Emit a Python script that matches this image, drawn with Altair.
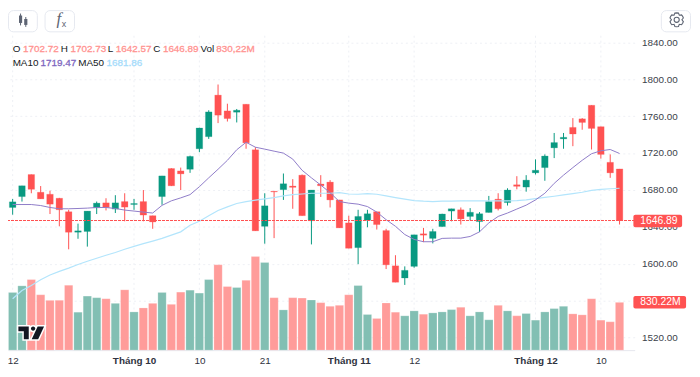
import math
import altair as alt
import pandas as pd

FONT = "Liberation Sans"
RED = "#ff5252"
GREEN = "#089981"
VOL_RED = "#ff9c9a"
VOL_GREEN = "#82bfb3"

opens = [1661.0,1672.8,1696.7,1677.5,1675.3,1671.0,1656.4,1634.2,1635.0,1660.7,1666.0,1659.3,1667.4,1664.2,1667.4,1652.1,
         1672.8,1703.2,1700.6,1702.4,1724.6,1737.7,1782.7,1765.6,1764.2,1772.8,1723.5,1640.6,1678.5,1680.3,1684.2,1696.0,
         1646.7,1686.4,1688.5,1669.2,1644.3,1617.5,1647.1,1656.4,1636.0,1597.8,1584.6,1597.2,1632.5,1627.5,1640.3,1657.1,
         1658.5,1651.3,1645.7,1655.6,1670.0,1666.3,1685.6,1683.1,1698.5,1704.2,1725.6,1735.3,1747.7,1757.0,1771.7,1748.5,
         1709.9,1702.72]
highs = [1670.3,1684.5,1696.7,1684.2,1679.2,1671.4,1658.5,1643.5,1657.1,1667.4,1671.0,1674.3,1676.4,1670.3,1679.9,1652.1,
         1695.2,1703.5,1704.2,1717.1,1747.4,1766.3,1794.2,1773.4,1767.7,1772.8,1726.3,1676.4,1678.5,1697.8,1691.7,1696.7,
         1679.9,1696.0,1690.6,1669.2,1652.1,1658.5,1658.5,1656.4,1637.9,1609.3,1597.2,1631.4,1638.9,1637.9,1654.2,1659.6,
         1661.0,1660.3,1656.0,1673.5,1676.4,1681.8,1694.9,1696.0,1713.1,1718.5,1741.7,1741.7,1757.8,1757.8,1771.7,1748.5,
         1718.5,1702.73]
lows = [1653.2,1667.4,1676.4,1670.3,1653.9,1640.6,1615.7,1627.1,1618.6,1653.9,1657.8,1655.0,1646.0,1658.5,1646.0,1637.9,
        1663.9,1684.2,1679.9,1698.5,1720.9,1735.3,1752.4,1754.1,1753.1,1724.6,1635.7,1621.8,1627.8,1669.2,1659.6,1652.1,
        1621.0,1672.4,1661.0,1638.9,1616.8,1599.6,1639.6,1637.1,1594.3,1580.0,1577.1,1595.7,1623.5,1622.1,1640.3,1646.0,
        1642.5,1647.1,1634.4,1655.6,1657.8,1663.1,1680.7,1678.1,1696.7,1689.9,1714.5,1724.6,1727.4,1745.2,1723.8,1713.9,
        1693.1,1642.57]
closes = [1667.1,1684.5,1680.7,1670.3,1664.6,1658.5,1634.2,1635.7,1657.1,1665.7,1661.0,1666.0,1661.4,1665.3,1652.8,1645.3,
          1695.2,1684.5,1697.4,1716.3,1747.1,1764.5,1761.0,1757.3,1766.3,1731.0,1635.7,1662.8,1677.8,1686.7,1682.8,1652.1,
          1679.9,1684.5,1669.2,1638.9,1616.8,1651.3,1654.2,1642.5,1598.9,1580.0,1592.9,1631.4,1631.0,1635.0,1653.9,1659.6,
          1648.6,1655.8,1654.2,1667.4,1659.6,1679.9,1683.9,1690.6,1701.3,1716.7,1731.3,1737.0,1740.6,1753.1,1746.6,1718.5,
          1698.5,1646.89]
volumes = [1002,1117,1226,962,865,865,1128,659,939,911,893,813,1048,664,733,813,
           1002,796,1008,1042,991,1226,1483,1105,1088,1214,1626,1523,911,699,911,905,
           871,825,762,779,962,1122,619,550,819,659,596,682,624,647,664,704,
           745,596,664,527,779,682,596,636,521,664,722,762,630,613,893,521,
           493,830.22]
ma10 = [1664.2,1664.2,1664.2,1663.1,1661.0,1659.6,1659.6,1659.9,1660.3,1661.0,1661.0,1659.9,1658.2,1657.1,1656.0,1655.0,
        1663.3,1668.2,1671.4,1674.9,1683.5,1693.1,1702.4,1712.1,1723.5,1731.6,1726.3,1724.2,1722.0,1719.9,1713.4,1701.3,
        1693.1,1685.3,1677.0,1667.4,1665.7,1664.6,1662.0,1656.0,1647.8,1640.6,1631.7,1626.4,1623.9,1623.9,1627.5,1627.8,
        1627.8,1629.6,1634.6,1644.3,1651.3,1655.0,1659.3,1663.5,1669.2,1676.4,1687.1,1696.0,1704.2,1712.1,1719.2,1722.4,
        1723.8,1719.47]
ma50 = [1562.1,1571.0,1576.4,1582.8,1587.9,1591.8,1595.3,1599.3,1602.8,1606.0,1609.3,1612.2,1615.7,1618.9,1621.8,1624.6,
        1627.5,1631.0,1634.6,1641.7,1646.0,1652.1,1657.8,1661.7,1665.3,1667.4,1668.9,1670.3,1671.7,1673.5,1674.9,1675.6,
        1676.4,1676.4,1676.4,1677.0,1675.6,1675.3,1676.0,1675.3,1673.5,1671.7,1670.0,1668.5,1667.8,1667.4,1667.8,1667.8,
        1668.2,1668.2,1668.2,1668.2,1668.2,1668.2,1668.5,1669.2,1670.6,1671.9,1673.2,1674.6,1676.0,1677.5,1679.6,1680.7,
        1681.3,1681.86]

x_tick_index = [0, 13, 20, 27, 36, 43, 56, 63]
x_tick_labels = ["12", "Tháng 10", "10", "21", "Tháng 11", "12", "Tháng 12", "10"]
month_ticks = [13, 36, 56]
price_ticks = [1520, 1560, 1600, 1640, 1680, 1720, 1760, 1800, 1840]
last_price = 1646.89

df = pd.DataFrame({"i": range(len(opens)), "o": opens, "h": highs, "l": lows, "c": closes,
                   "v": volumes, "ma10": ma10, "ma50": ma50})
df["top"] = df[["o", "c"]].max(axis=1)
df["bot"] = df[["o", "c"]].min(axis=1)
df["dir"] = ["up" if c >= o else "down" for o, c in zip(opens, closes)]
ticks_df = pd.DataFrame({"i": x_tick_index})

W, H = 634, 344
xs = alt.Scale(domain=[-0.4976, 66.62], nice=False, zero=False, padding=0)
ys = alt.Scale(domain=[1506.5, 1874.8], nice=False, zero=False, padding=0)
vs = alt.Scale(domain=[0, 5910], nice=False, zero=False, padding=0)

X_plain = alt.X("i:Q", scale=xs, axis=None)
Y_plain = alt.Y("top:Q", scale=ys, axis=None)

candle_color = alt.Color("dir:N", legend=None,
                         scale=alt.Scale(domain=["up", "down"], range=[GREEN, RED]))
vol_color = alt.Color("dir:N", legend=None,
                      scale=alt.Scale(domain=["up", "down"], range=[VOL_GREEN, VOL_RED]))

label_expr = ("[" + ",".join(f"'{t}'" for t in x_tick_labels) + "][indexof(["
              + ",".join(str(t) for t in x_tick_index) + "],datum.value)]")
bold_test = " || ".join(f"datum.value === {t}" for t in month_ticks)

axes_layer = alt.Chart(df).mark_point(opacity=0).encode(
    x=alt.X("i:Q", scale=xs, title=None, axis=alt.Axis(
        values=x_tick_index, labelExpr=label_expr, grid=False, ticks=False,
        domain=True, domainColor="#e6e8ee", labelFont=FONT, labelFontSize=10,
        labelColor="#2f3340", labelPadding=6, labelOverlap=False, labelFlush=False,
        labelBound=False, labelAlign="center",
        labelFontWeight={"condition": {"test": bold_test, "value": "bold"}, "value": "normal"})),
    y=alt.Y("top:Q", scale=ys, title=None, axis=alt.Axis(
        orient="right", values=price_ticks, format=".2f", grid=True, gridColor="#eef0f5",
        gridDash=[2, 3], ticks=False, domain=False, labelFont=FONT, labelFontSize=10,
        labelColor="#3b3f4a", labelPadding=7, labelOverlap=False, labelFlush=False, labelBound=False)),
)

vgrid = alt.Chart(ticks_df).mark_rule(color="#eef0f5", strokeDash=[2, 3]).encode(
    x=X_plain, y=alt.Y("a:Q", scale=ys, axis=None), y2="b:Q"
).transform_calculate(a="1847", b="1506.5")

vol = alt.Chart(df).mark_bar(size=8.4, stroke="#ffffff", strokeOpacity=0.35, strokeWidth=0.6).encode(
    x=X_plain, y=alt.Y("v:Q", scale=vs, axis=None), y2=alt.Y2(datum=0), color=vol_color)

wicks = alt.Chart(df).mark_rule(strokeWidth=1).encode(
    x=X_plain, y=alt.Y("h:Q", scale=ys, axis=None), y2="l:Q", color=candle_color)
bodies = alt.Chart(df).mark_bar(size=6.6, strokeWidth=0.8, strokeOpacity=0.3).encode(
    x=X_plain, y=Y_plain, y2="bot:Q", color=candle_color, stroke=candle_color)

line50 = alt.Chart(df).mark_line(color="#b3e5fc", strokeWidth=1.2).encode(
    x=X_plain, y=alt.Y("ma50:Q", scale=ys, axis=None))
line10 = alt.Chart(df).mark_line(color="#8f7cc8", strokeWidth=1).encode(
    x=X_plain, y=alt.Y("ma10:Q", scale=ys, axis=None))
last_line = alt.Chart(df).mark_rule(color=RED, strokeDash=[2, 2], strokeWidth=1).encode(
    y=alt.Y(datum=last_price, scale=ys, axis=None))


def P(v):
    return alt.value(v - 8)


def txt(s, px, py, color="#131722", size=10, align="left", font=FONT, style="normal", bolden=0.0):
    kw = {"stroke": color, "strokeWidth": bolden} if bolden else {}
    return alt.Chart(df.head(1)).mark_text(
        text=s, align=align, baseline="middle", color=color, fontSize=size,
        font=font, fontStyle=style, **kw).encode(x=P(px), y=P(py))


def box(x0, x1, y0, y1, fill, stroke=None, r=5):
    kw = {"stroke": stroke, "strokeWidth": 1} if stroke else {}
    return alt.Chart(df.head(1)).mark_rect(fill=fill, cornerRadius=r, **kw).encode(
        x=P(x0), x2=P(x1), y=P(y0), y2=P(y1))


def bar_icon(x, y0, y1, width):
    return alt.Chart(df.head(1)).mark_rule(color="#5d6473", strokeWidth=width).encode(
        x=P(x), y=P(y0), y2=P(y1))


tv_path = ("M-13,-6.5 L-2.5,-6.5 L-2.5,6.5 L-7.5,6.5 L-7.5,-1.5 L-13,-1.5 Z "
           "M-0.3,-4.3 a2.2,2.2 0 1 0 4.4,0 a2.2,2.2 0 1 0 -4.4,0 Z "
           "M6.5,-6.5 L13,-6.5 L7,6.5 L0.5,6.5 Z")
logo_halo = alt.Chart(df.head(1)).mark_point(
    shape=tv_path, size=4, filled=True, fill="#ffffff", stroke="#ffffff",
    strokeWidth=3, opacity=1).encode(x=P(31.5), y=P(334.5))
logo = alt.Chart(df.head(1)).mark_point(
    shape=tv_path, size=4, filled=True, fill="#131722", opacity=1).encode(x=P(31.5), y=P(334.5))

gear_pts = []
for k in range(24):
    a = math.radians(k * 15 - 90)
    r = 7.0 if k % 4 in (0, 1, 3) else 5.3
    gear_pts.append(f"{r * math.cos(a):.2f},{r * math.sin(a):.2f}")
gear_path = "M" + " L".join(gear_pts) + " Z M-2.6,0 a2.6,2.6 0 1 0 5.2,0 a2.6,2.6 0 1 0 -5.2,0 Z"
gear = alt.Chart(df.head(1)).mark_point(
    shape=gear_path, size=4, filled=False, stroke="#5d6473", strokeWidth=1.1, opacity=1
).encode(x=P(684.5), y=P(17.8))

LAB = "#ff9391"
B = 0.3
overlay = [
    txt("O", 12.7, 47), txt("1702.72", 23.3, 47, LAB, bolden=B),
    txt("H", 61.3, 47), txt("1702.73", 71.3, 47, LAB, bolden=B),
    txt("L", 109, 47), txt("1642.57", 117, 47, LAB, bolden=B),
    txt("C", 155, 47), txt("1646.89", 164.7, 47, LAB, bolden=B),
    txt("Vol", 202.7, 47), txt("830,22M", 218.7, 47, LAB, bolden=B),
    txt("MA10", 12.7, 62), txt("1719.47", 41, 62, "#7e67c0", bolden=B),
    txt("MA50", 79, 62), txt("1681.86", 107.7, 62, "#a6dcfb", bolden=B),
    box(640.7, 690, 215, 227.7, RED, r=2),
    txt("1646.89", 666.5, 221.4, "#ffffff", size=10.5, align="center"),
    box(640.7, 694, 297.3, 310, RED, r=2),
    txt("830.22M", 668, 303.8, "#ffffff", size=10.5, align="center"),
    box(8.5, 37.7, 8.5, 30, "#ffffff", "#e6e9f0"),
    box(45.5, 75.3, 8.5, 30, "#ffffff", "#e6e9f0"),
    box(669, 698.5, 8.5, 30, "#ffffff", "#e6e9f0"),
    bar_icon(20.7, 11.5, 23.5, 1), bar_icon(20.7, 13.5, 21, 3.2),
    bar_icon(26, 15, 25, 1), bar_icon(26, 17, 23, 3.2),
    txt("f", 57, 17.5, "#5d6473", size=17, font="Liberation Serif", style="italic"),
    txt("x", 62.5, 22.5, "#5d6473", size=9),
    gear,
]

chart = alt.layer(
    axes_layer, vgrid, vol, wicks, bodies, line50, line10, last_line, logo_halo, logo, *overlay
).resolve_scale(y="independent", color="independent", stroke="independent").resolve_axis(
    x="independent", y="independent"
).properties(
    width=W, height=H,
    autosize=alt.AutoSizeParams(type="none"),
    padding={"left": 0, "top": 0, "right": 58, "bottom": 18},
    background="white",
).configure_view(stroke=None)

chart.save("out.html", embed_options={"renderer": "svg", "actions": False})
